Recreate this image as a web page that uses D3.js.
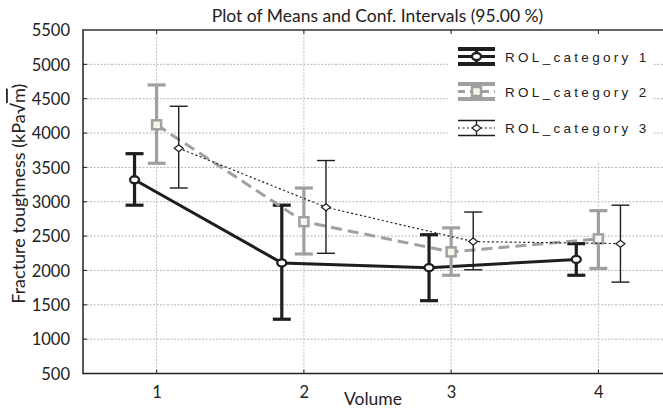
<!DOCTYPE html>
<html>
<head>
<meta charset="utf-8">
<script src="https://cdn.jsdelivr.net/npm/d3@7"></script>
<style>
  html, body { margin: 0; padding: 0; background: #fff; }
  svg { display: block; }
  .ax text { font-family: Lato, "Open Sans", sans-serif; }
</style>
</head>
<body>
<div id="chart"></div>
<script>
// ---- data ----
const categories = [1, 2, 3, 4];
const xTickLabels = ["1", "2", "3", "4"];
const yTicks = [500, 1000, 1500, 2000, 2500, 3000, 3500, 4000, 4500, 5000, 5500];
const seriesNames = ["ROL_category 1", "ROL_category 2", "ROL_category 3"];

const cat1Mean  = [3320, 2110, 2040, 2160];
const cat1Upper = [3700, 2950, 2520, 2390];
const cat1Lower = [2950, 1290, 1560, 1930];

const cat2Mean  = [4120, 2710, 2270, 2460];
const cat2Upper = [4700, 3200, 2620, 2870];
const cat2Lower = [3560, 2240, 1930, 2030];

const cat3Mean  = [3780, 2920, 2420, 2390];
const cat3Upper = [4390, 3600, 2850, 2950];
const cat3Lower = [3200, 2250, 2010, 1830];

const titleText = "Plot of Means and Conf. Intervals (95.00 %)";
const xLabel = "Volume";
const yLabelMain = "Fracture toughness (kPa\u221A";
const yLabelRoot = "m";
const yLabelEnd = ")";

// ---- layout ----
const W = 663, H = 410;
const m = { left: 83, top: 30, right: 672, bottom: 373.5 };

const svg = d3.select("#chart").append("svg")
  .attr("width", W).attr("height", H);

const x = d3.scaleLinear().domain([0.5, 4.5]).range([m.left, m.right]);
const y = d3.scaleLinear().domain([500, 5500]).range([m.bottom, m.top]);

const styles = [
  { name: seriesNames[0], mean: cat1Mean, upper: cat1Upper, lower: cat1Lower,
    color: "#1e1e1e", lw: 3, ew: 3.2, dash: null, marker: "circle", dodge: -0.15 },
  { name: seriesNames[1], mean: cat2Mean, upper: cat2Upper, lower: cat2Lower,
    color: "#a0a0a0", lw: 3, ew: 3.2, dash: "11,6", marker: "square", dodge: 0 },
  { name: seriesNames[2], mean: cat3Mean, upper: cat3Upper, lower: cat3Lower,
    color: "#1e1e1e", lw: 1.2, ew: 1.4, dash: "2,2.5", marker: "diamond", dodge: 0.15 }
];

// ---- grid ----
const grid = svg.append("g");
grid.selectAll(".hg").data(yTicks.filter(v => v > 500 && v < 5500)).enter()
  .append("line")
  .attr("x1", m.left).attr("x2", W)
  .attr("y1", d => y(d)).attr("y2", d => y(d))
  .attr("stroke", "#b5b5b5").attr("stroke-width", 1).attr("stroke-dasharray", "2,1.5");
grid.selectAll(".vg").data(categories).enter()
  .append("line")
  .attr("x1", d => x(d)).attr("x2", d => x(d))
  .attr("y1", m.top).attr("y2", m.bottom)
  .attr("stroke", "#c0c0c0").attr("stroke-width", 1).attr("stroke-dasharray", "2,1.5");

// ---- legend background (white box hides grid) ----
svg.append("rect").attr("x", 448).attr("y", 34).attr("width", 205).attr("height", 127)
  .attr("fill", "#fff");

// ---- axes ----
const yAxis = d3.axisLeft(y).tickValues(yTicks).tickSize(0).tickPadding(13)
  .tickFormat(d3.format("d"));
const gy = svg.append("g").attr("class", "ax").attr("transform", `translate(${m.left},0)`).call(yAxis);
gy.select(".domain").remove();
gy.selectAll("text").attr("font-size", 16.5).attr("fill", "#222").attr("dy", "0.35em");

const xAxis = d3.axisBottom(x).tickValues(categories).tickSize(0).tickPadding(13)
  .tickFormat((d, i) => xTickLabels[i]);
const gx = svg.append("g").attr("class", "ax").attr("transform", `translate(0,${m.bottom})`).call(xAxis);
gx.select(".domain").remove();
gx.selectAll("text").attr("font-size", 16.5).attr("fill", "#222");

// small inner ticks
svg.append("g").selectAll("line").data(yTicks.filter(v => v > 500 && v < 5500)).enter()
  .append("line").attr("x1", m.left).attr("x2", m.left + 4)
  .attr("y1", d => y(d)).attr("y2", d => y(d)).attr("stroke", "#222").attr("stroke-width", 1);
svg.append("g").selectAll("line").data(categories).enter()
  .append("line").attr("x1", d => x(d)).attr("x2", d => x(d))
  .attr("y1", m.bottom).attr("y2", m.bottom - 4).attr("stroke", "#222").attr("stroke-width", 1);
svg.append("g").selectAll("line").data(categories).enter()
  .append("line").attr("x1", d => x(d)).attr("x2", d => x(d))
  .attr("y1", m.top).attr("y2", m.top + 4).attr("stroke", "#222").attr("stroke-width", 1);

// frame
svg.append("line").attr("x1", m.left).attr("x2", m.left).attr("y1", m.top - 0.75).attr("y2", m.bottom + 0.75)
  .attr("stroke", "#222").attr("stroke-width", 1.5);
svg.append("line").attr("x1", m.left).attr("x2", W).attr("y1", m.bottom).attr("y2", m.bottom)
  .attr("stroke", "#222").attr("stroke-width", 1.5);
svg.append("line").attr("x1", m.left).attr("x2", W).attr("y1", m.top).attr("y2", m.top)
  .attr("stroke", "#333").attr("stroke-width", 1.5);

// ---- titles ----
svg.append("text").attr("x", (m.left + m.right) / 2).attr("y", 22)
  .attr("text-anchor", "middle").attr("font-family", "Lato, sans-serif")
  .attr("font-size", 17.5).attr("fill", "#222").text(titleText);
svg.append("text").attr("x", 373).attr("y", 405)
  .attr("text-anchor", "middle").attr("font-family", "Lato, sans-serif")
  .attr("font-size", 17.5).attr("fill", "#222").text(xLabel);
const yl = svg.append("text").attr("transform", `translate(25,${(m.top + m.bottom) / 2 - 8}) rotate(-90)`)
  .attr("text-anchor", "middle").attr("font-family", "Lato, sans-serif")
  .attr("font-size", 18).attr("fill", "#222");
yl.append("tspan").text(yLabelMain);
yl.append("tspan").attr("text-decoration", "overline").text(yLabelRoot);
yl.append("tspan").text(yLabelEnd);

// ---- markers ----
function drawMarker(g, type, cx, cy, s) {
  if (type === "circle") {
    g.append("ellipse").attr("cx", cx).attr("cy", cy).attr("rx", 4.5).attr("ry", 3.5)
      .attr("fill", "#fff").attr("stroke", s.color).attr("stroke-width", 2.3);
  } else if (type === "square") {
    g.append("rect").attr("x", cx - 4.5).attr("y", cy - 4.5).attr("width", 9).attr("height", 9)
      .attr("fill", "#f7f5ec").attr("stroke", s.color).attr("stroke-width", 2.5);
  } else {
    g.append("path").attr("d", `M${cx - 4.5},${cy} L${cx},${cy - 3.5} L${cx + 4.5},${cy} L${cx},${cy + 3.5} Z`)
      .attr("fill", "#fff").attr("stroke", s.color).attr("stroke-width", 1.2);
  }
}

// ---- series ----
const capHalf = 9;
styles.forEach(s => {
  const g = svg.append("g");
  const pts = categories.map((c, i) => ({ c, v: s.mean[i], u: s.upper[i], l: s.lower[i] }));
  const px = d => x(d.c + s.dodge);
  g.append("path").datum(pts)
    .attr("d", d3.line().x(px).y(d => y(d.v)))
    .attr("fill", "none").attr("stroke", s.color).attr("stroke-width", s.lw)
    .attr("stroke-dasharray", s.dash);
  pts.forEach(d => {
    g.append("line").attr("x1", px(d)).attr("x2", px(d)).attr("y1", y(d.u)).attr("y2", y(d.l))
      .attr("stroke", s.color).attr("stroke-width", s.ew);
    [d.u, d.l].forEach(v => {
      g.append("line").attr("x1", px(d) - capHalf).attr("x2", px(d) + capHalf)
        .attr("y1", y(v)).attr("y2", y(v)).attr("stroke", s.color).attr("stroke-width", s.ew);
    });
  });
  pts.forEach(d => drawMarker(g, s.marker, px(d), y(d.v), s));
});

// ---- legend ----
const legY = [56.5, 91.5, 128];
styles.forEach((s, i) => {
  const g = svg.append("g");
  const cy = legY[i], x0 = 458, x1 = 495, cx = (x0 + x1) / 2;
  const bw = s.ew + (i === 2 ? 0 : 0.8);
  g.append("line").attr("x1", x0).attr("x2", x1).attr("y1", cy - 7.5).attr("y2", cy - 7.5)
    .attr("stroke", s.color).attr("stroke-width", bw);
  g.append("line").attr("x1", x0).attr("x2", x1).attr("y1", cy + 7.5).attr("y2", cy + 7.5)
    .attr("stroke", s.color).attr("stroke-width", bw);
  g.append("line").attr("x1", cx).attr("x2", cx).attr("y1", cy - 7.5).attr("y2", cy + 7.5)
    .attr("stroke", s.color).attr("stroke-width", s.ew);
  g.append("line").attr("x1", x0).attr("x2", x1).attr("y1", cy).attr("y2", cy)
    .attr("stroke", s.color).attr("stroke-width", s.lw).attr("stroke-dasharray", i === 1 ? "7,5" : s.dash);
  drawMarker(g, s.marker, cx, cy, s);
  g.append("text").attr("x", 505).attr("y", cy + 5)
    .attr("font-family", "'Liberation Sans', Arial, sans-serif").attr("font-size", 13.5)
    .attr("letter-spacing", 3.3).attr("fill", "#222").text(s.name);
});
</script>
</body>
</html>
